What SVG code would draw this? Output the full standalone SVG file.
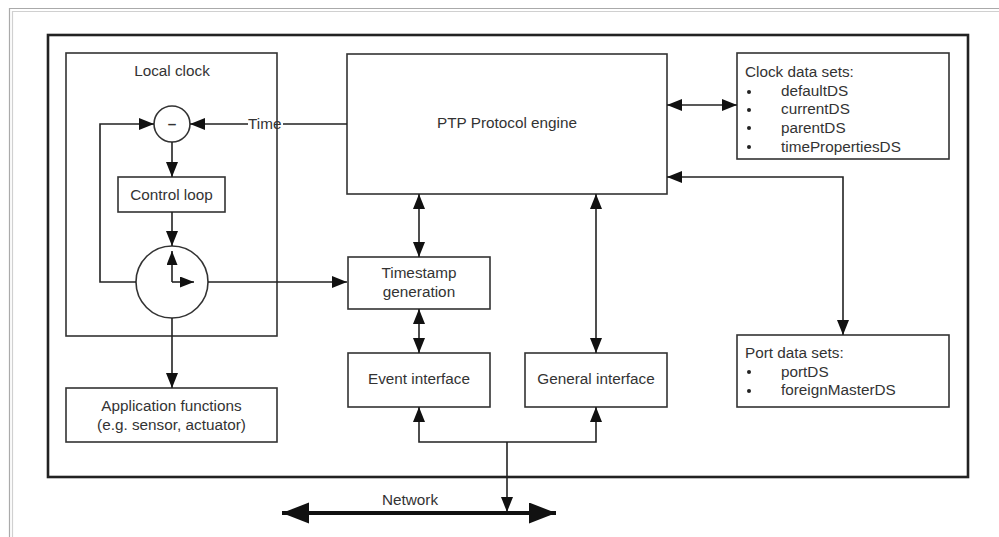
<svg xmlns="http://www.w3.org/2000/svg" width="999" height="537" viewBox="0 0 999 537">
  <defs>
    <marker id="arr" markerUnits="userSpaceOnUse" markerWidth="16" markerHeight="12" refX="15" refY="6" orient="auto-start-reverse">
      <path d="M0,0 L15,6 L0,12 z" fill="#111"/>
    </marker>
    <marker id="hand" markerUnits="userSpaceOnUse" markerWidth="15" markerHeight="12" refX="14" refY="5.5" orient="auto">
      <path d="M0,0 L14,5.5 L0,11 z" fill="#111"/>
    </marker>
    <marker id="net" markerUnits="userSpaceOnUse" markerWidth="28" markerHeight="22" refX="27" refY="10.5" orient="auto-start-reverse">
      <path d="M0,0 L27,10.5 L0,21 z" fill="#111"/>
    </marker>
  </defs>
  <style>
    .box { fill: #fff; stroke: #333; stroke-width: 1.6; }
    .frame { fill: none; stroke: #222; stroke-width: 2.6; }
    .lbl { font-family: "Liberation Sans", Arial, sans-serif; font-size: 15.3px; fill: #333; }
    .mid { text-anchor: middle; }
    .con { fill: none; stroke: #222; stroke-width: 1.6; }
    .bi { marker-start: url(#arr); marker-end: url(#arr); }
    .one { marker-end: url(#arr); }
  </style>

  <rect x="0" y="0" width="999" height="537" fill="#fff"/>

  <!-- window edge -->
  <g id="window-edge" fill="none" stroke-width="1.2">
    <path d="M9.5,537 V8.5 H999" stroke="#aaa"/>
    <path d="M12.5,537 V11.5 H999" stroke="#d0d0d0"/>
  </g>

  <!-- outer device boundary -->
  <rect id="device" class="frame" x="48" y="35" width="920" height="442"/>

  <g id="local-clock">
    <rect class="box" x="66" y="53" width="211" height="283"/>
    <text class="lbl mid" x="172" y="76">Local clock</text>
  </g>

  <g id="subtractor">
    <circle class="box" cx="172" cy="124" r="18"/>
    <text class="lbl mid" x="172" y="129" font-weight="bold">–</text>
  </g>

  <g id="control-loop">
    <rect class="box" x="118" y="177" width="107" height="35"/>
    <text class="lbl mid" x="171.5" y="200">Control loop</text>
  </g>

  <g id="clock">
    <circle class="box" cx="172" cy="282" r="36"/>
    <path class="con" d="M172,282 V251" marker-end="url(#hand)"/>
    <path class="con" d="M172,282 H194" marker-end="url(#hand)"/>
  </g>

  <g id="application">
    <rect class="box" x="66" y="388" width="211" height="54"/>
    <text class="lbl mid" x="171.5" y="411">Application functions</text>
    <text class="lbl mid" x="171.5" y="430">(e.g. sensor, actuator)</text>
  </g>

  <g id="ptp-engine">
    <rect class="box" x="347" y="54" width="320" height="140"/>
    <text class="lbl mid" x="507" y="128">PTP Protocol engine</text>
  </g>

  <g id="timestamp">
    <rect class="box" x="348" y="257" width="142" height="52"/>
    <text class="lbl mid" x="419" y="278">Timestamp</text>
    <text class="lbl mid" x="419" y="297">generation</text>
  </g>

  <g id="event-interface">
    <rect class="box" x="348" y="353" width="142" height="54"/>
    <text class="lbl mid" x="419" y="384">Event interface</text>
  </g>

  <g id="general-interface">
    <rect class="box" x="525" y="353" width="142" height="54"/>
    <text class="lbl mid" x="596" y="384">General interface</text>
  </g>

  <g id="clock-data-sets">
    <rect class="box" x="737" y="53" width="212" height="106"/>
    <text class="lbl" x="745" y="77">Clock data sets:</text>
    <g fill="#222">
      <circle cx="749" cy="92" r="2"/>
      <circle cx="749" cy="110" r="2"/>
      <circle cx="749" cy="128" r="2"/>
      <circle cx="749" cy="147" r="2"/>
    </g>
    <text class="lbl" x="781" y="96">defaultDS</text>
    <text class="lbl" x="781" y="114">currentDS</text>
    <text class="lbl" x="781" y="133">parentDS</text>
    <text class="lbl" x="781" y="152">timePropertiesDS</text>
  </g>

  <g id="port-data-sets">
    <rect class="box" x="737" y="335" width="212" height="72"/>
    <text class="lbl" x="745" y="358">Port data sets:</text>
    <g fill="#222">
      <circle cx="749" cy="372" r="2"/>
      <circle cx="749" cy="391" r="2"/>
    </g>
    <text class="lbl" x="781" y="377">portDS</text>
    <text class="lbl" x="781" y="395">foreignMasterDS</text>
  </g>

  <g id="connectors">
    <!-- time from engine into subtractor, broken around its label -->
    <path class="con one" d="M347,124 H283 M248,124 H190"/>
    <text class="lbl" x="248" y="129">Time</text>
    <!-- feedback from clock back to subtractor -->
    <path class="con one" d="M136,282 H100 V124 H154"/>
    <path class="con one" d="M172,142 V177"/>
    <path class="con one" d="M172,212 V246"/>
    <path class="con one" d="M208,282 H347"/>
    <path class="con one" d="M172,318 V388"/>
    <path class="con bi" d="M419,194 V257"/>
    <path class="con bi" d="M419,309 V353"/>
    <path class="con bi" d="M596,194 V353"/>
    <path class="con bi" d="M419,407 V442 H596 V407"/>
    <path class="con one" d="M507,442 V512"/>
    <path class="con bi" d="M667,105 H737"/>
    <path class="con bi" d="M667,177 H843 V335"/>
    <!-- network bus -->
    <path fill="none" stroke="#111" stroke-width="4" d="M282,513 H556" marker-start="url(#net)" marker-end="url(#net)"/>
    <text class="lbl mid" x="410" y="505">Network</text>
  </g>
</svg>
